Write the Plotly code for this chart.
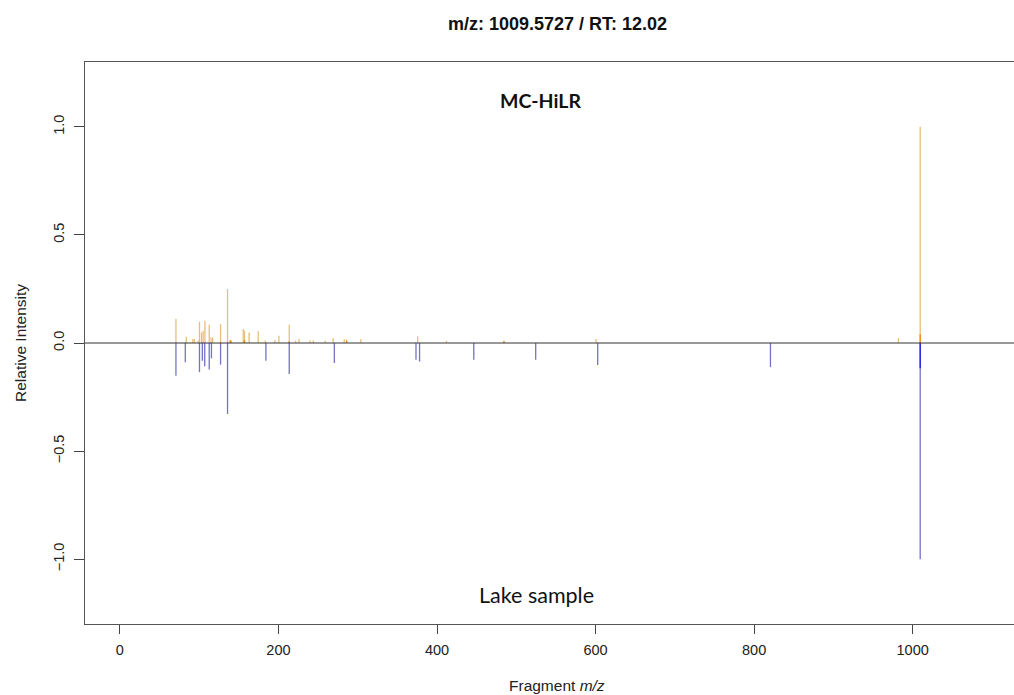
import plotly.graph_objects as go

# ---- data ----
top_mz = [70.7, 83.7, 92, 94, 98.8, 100.4, 103, 105, 107.3, 112.7, 115, 117, 127, 135.8,
          139, 140.5, 155.6, 157.2, 163, 174.5, 183.4, 195.6, 200.6, 213.6, 221.7, 226,
          240, 244, 259, 269, 283, 286, 304, 375.6, 412, 484.5, 600.6, 982, 1009.5]
top_int = [0.111, 0.029, 0.018, 0.018, 0.011, 0.098, 0.049, 0.057, 0.103, 0.085, 0.026, 0.026,
           0.088, 0.249, 0.014, 0.012, 0.065, 0.057, 0.049, 0.054, 0.011, 0.014, 0.034, 0.085,
           0.011, 0.018, 0.011, 0.011, 0.010, 0.023, 0.017, 0.017, 0.018, 0.031, 0.010, 0.010,
           0.018, 0.023, 1.0]

top_match_mz = [139.5, 157.2, 213.6, 286, 484.5, 1009.5]
top_match_int = [0.012, 0.014, 0.008, 0.010, 0.008, 0.040]

bot_mz = [70.7, 82.5, 100.4, 104, 107, 112.7, 115.5, 127, 135.8, 184.2, 213.6, 270.5,
          373.5, 378, 446.4, 524.5, 602.7, 820.6, 1009.5]
bot_int = [0.151, 0.089, 0.135, 0.082, 0.108, 0.123, 0.071, 0.100, 0.328, 0.082, 0.143, 0.092,
           0.078, 0.086, 0.078, 0.078, 0.102, 0.112, 1.0]

bot_match_mz = [1009.5]
bot_match_int = [0.117]

x_ticks = [0, 200, 400, 600, 800, 1000]
y_ticks = [-1.0, -0.5, 0.0, 0.5, 1.0]


def sticks(mz, inten, sign=1):
    xs, ys = [], []
    for m, v in zip(mz, inten):
        xs += [m, m, None]
        ys += [0, sign * v, None]
    return xs, ys


fig = go.Figure()
specs = [
    (top_mz, top_int, 1, "rgb(232,190,125)"),
    (bot_mz, bot_int, -1, "rgb(115,115,200)"),
    (top_match_mz, top_match_int, 1, "rgb(245,135,20)"),
    (bot_match_mz, bot_match_int, -1, "rgb(30,30,230)"),
]
for mz, inten, sign, col in specs:
    xs, ys = sticks(mz, inten, sign)
    fig.add_trace(go.Scatter(x=xs, y=ys, mode="lines",
                             line=dict(color=col, width=1.3),
                             hoverinfo="skip", showlegend=False))

tick_font = dict(family="Liberation Sans, Arial, sans-serif", size=14.5, color="#222")
title_font = dict(family="Liberation Sans, Arial, sans-serif", size=15.5, color="#222")

# the page is wider than the window (the original plot region is cut at the right edge)
fig.update_layout(
    width=1030, height=695,
    margin=dict(l=85, r=0, t=62, b=71),
    paper_bgcolor="white", plot_bgcolor="white",
    showlegend=False,
    hovermode=False,
    xaxis=dict(range=[-44, 1148], tickvals=x_ticks, ticks="outside", ticklen=9,
               tickcolor="#444", tickfont=tick_font, showgrid=False, zeroline=False,
               showline=True, linecolor="#555", linewidth=1.2, mirror=True,
               ticklabelstandoff=3),
    yaxis=dict(range=[-1.3, 1.3], tickvals=y_ticks, tickformat=".1f", ticks="outside",
               ticklen=10, tickcolor="#444", tickfont=tick_font, tickangle=-90,
               showgrid=False, zeroline=False, showline=True, linecolor="#555",
               linewidth=1.2, mirror=False, ticklabelstandoff=4),
    shapes=[dict(type="line", xref="paper", yref="y", x0=0, x1=1, y0=0, y1=0,
                 line=dict(color="#333", width=1), layer="above")],
    annotations=[
        dict(text="<b>m/z: 1009.5727 / RT: 12.02</b>", xref="paper", yref="paper",
             x=0.4995, y=1.0676, xanchor="center", yanchor="middle", showarrow=False,
             font=dict(family="Liberation Sans, Arial, sans-serif", size=18, color="#111")),
        dict(text="Relative Intensity", xref="paper", yref="paper", x=-0.0688, y=0.5,
             xanchor="center", yanchor="middle", textangle=-90, showarrow=False,
             font=title_font),
        dict(text="Fragment <i>m/z</i>", xref="paper", yref="paper", x=0.4995, y=-0.11,
             xanchor="center", yanchor="middle", showarrow=False, font=title_font),
        dict(text="<b>MC-HiLR</b>", xref="paper", yref="paper", x=0.4815, y=0.932,
             xanchor="center", yanchor="middle", showarrow=False,
             font=dict(family="Lato, Open Sans, sans-serif", size=19.5, color="#111")),
        dict(text="Lake sample", xref="paper", yref="paper", x=0.4783, y=0.0516,
             xanchor="center", yanchor="middle", showarrow=False,
             font=dict(family="Lato, Open Sans, sans-serif", size=21.5, color="#111")),
    ],
)

fig.write_html("out.html",
               config={"displayModeBar": False},
               post_script="document.body.style.margin='0';"
                           "document.body.style.overflow='hidden';")
